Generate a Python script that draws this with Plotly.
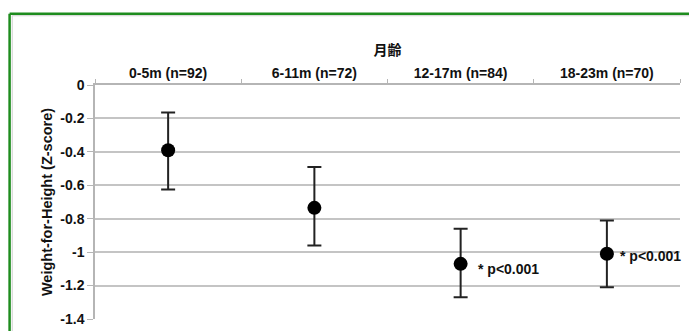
import plotly.graph_objects as go

# 月齢グループ別の Weight-for-Height Z-score (平均と範囲)
groups = ["0-5m (n=92)", "6-11m (n=72)", "12-17m (n=84)", "18-23m (n=70)"]
mean_z = [-0.39, -0.735, -1.07, -1.01]
upper_z = [-0.165, -0.49, -0.86, -0.81]
lower_z = [-0.625, -0.96, -1.27, -1.21]
sig_labels = ["", "", "* p<0.001", "* p<0.001"]

y_ticks = [0, -0.2, -0.4, -0.6, -0.8, -1, -1.2, -1.4]
y_ticktext = ["0", "-0.2", "-0.4", "-0.6", "-0.8", "-1", "-1.2", "-1.4"]

xpos = list(range(len(groups)))
err_plus = [u - m for u, m in zip(upper_z, mean_z)]
err_minus = [m - l for m, l in zip(mean_z, lower_z)]

font_b = dict(family="Liberation Sans, Arial, Noto Sans CJK JP", size=14, color="#111111", weight="bold")
font_title = dict(font_b, size=14.5)

fig = go.Figure()
fig.add_trace(go.Scatter(
    x=xpos,
    y=mean_z,
    mode="markers",
    marker=dict(color="black", size=14),
    error_y=dict(type="data", symmetric=False, array=err_plus, arrayminus=err_minus,
                 color="#222222", thickness=2, width=7),
    showlegend=False,
    hoverinfo="skip",
))

# p値の注記
for i, txt in enumerate(sig_labels):
    if txt:
        fig.add_annotation(
            x=xpos[i], y=mean_z[i], text=txt, showarrow=False,
            xanchor="left", yanchor="middle", xshift=11 if i == 3 else 15,
            yshift=-5 if i == 2 else -2,
            font=font_b,
        )

# 外枠 (緑) : 左辺と上辺のみ見えている
fig.add_shape(type="line", xref="paper", yref="paper",
              x0=-0.146, x1=-0.146, y0=-0.3, y1=1.305,
              line=dict(color="#1e8c1e", width=2.5))
fig.add_shape(type="line", xref="paper", yref="paper",
              x0=-0.146, x1=1.2, y0=1.305, y1=1.305,
              line=dict(color="#1e8c1e", width=2.5))
# 枠の内側の薄い影
fig.add_shape(type="line", xref="paper", yref="paper",
              x0=-0.1415, x1=-0.1415, y0=-0.3, y1=1.296,
              line=dict(color="#cfcfcf", width=1))
fig.add_shape(type="line", xref="paper", yref="paper",
              x0=-0.1415, x1=1.2, y0=1.296, y1=1.296,
              line=dict(color="#cfcfcf", width=1))

fig.update_layout(
    width=689, height=331,
    margin=dict(l=95, r=9, t=85, b=12),
    paper_bgcolor="white",
    plot_bgcolor="white",
    xaxis=dict(
        side="top",
        range=[-0.5, 3.5],
        tickvals=xpos,
        ticktext=groups,
        ticks="",
        tickfont=font_b,
        showgrid=False,
        zeroline=False,
        showline=True,
        linecolor="#b5b5b5",
        linewidth=1.5,
        minor=dict(tick0=-0.5, dtick=1, ticks="outside", ticklen=4, tickcolor="#b5b5b5", showgrid=False),
        title=dict(text="月齢", font=font_b, standoff=6),
        automargin=False,
        fixedrange=True,
    ),
    yaxis=dict(
        range=[-1.4, 0],
        tickvals=y_ticks,
        ticktext=y_ticktext,
        ticks="outside",
        ticklen=6,
        tickcolor="#b5b5b5",
        tickfont=font_b,
        showgrid=True,
        gridcolor="#c4c4c4",
        gridwidth=1.5,
        zeroline=False,
        showline=True,
        linecolor="#b5b5b5",
        linewidth=1.5,
        title=dict(text="Weight-for-Height (Z-score)", font=font_title, standoff=4),
        automargin=False,
        fixedrange=True,
    ),
)

# ページ本体の既定余白とスクロールバーを消す
fig.write_html(
    "out.html",
    config={"displayModeBar": False},
    post_script="document.body.style.margin='0';document.body.style.overflow='hidden';",
)
